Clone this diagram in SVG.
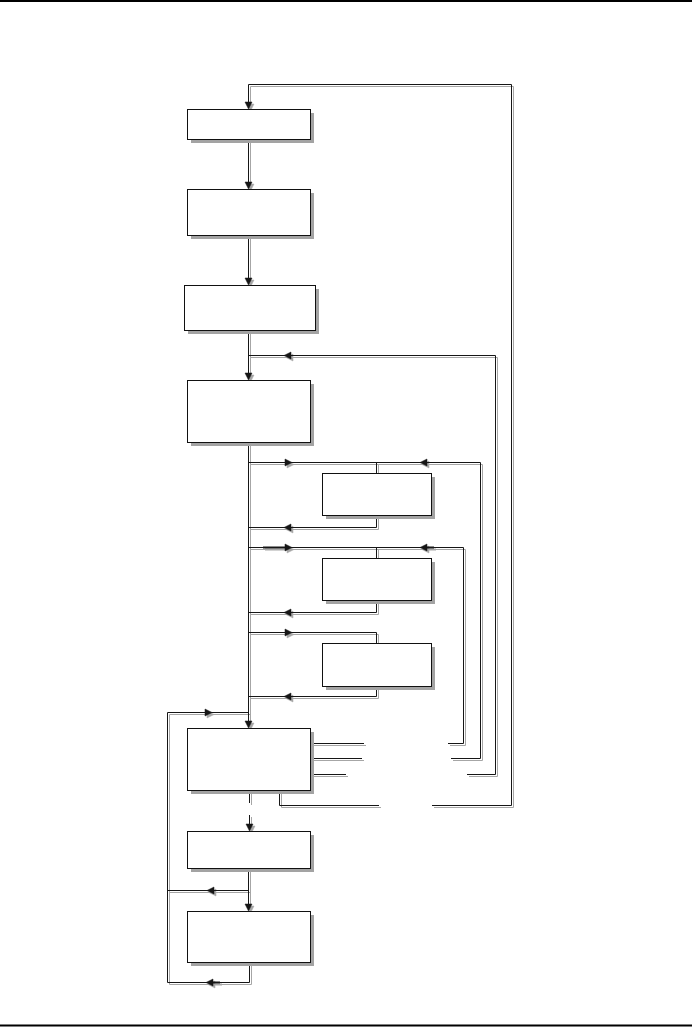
<svg xmlns="http://www.w3.org/2000/svg" xmlns:xlink="http://www.w3.org/1999/xlink" width="692" height="1027" viewBox="0 0 692 1027">
<style>
.bg{fill:#ffffff}
.rule{fill:#000000}
.box{fill:#ffffff;stroke:#111111;stroke-width:1}
.bshadow{fill:#a3a3a3}
.ln{fill:none}
.thick{fill:none;stroke-width:2}
.ah{stroke-width:0.5}
.shadow{stroke:#a6a6a6;fill:#a6a6a6}
.ink{stroke:#161616;fill:#161616}
</style>
<defs>
<g id="connPaths" stroke-width="1">
  <!-- top loop from box 8 -->
  <path class="ln" d="M279.5 790 V805.5 H379"/>
  <path class="ln" d="M432 805.5 H511.5 V84.5 H248.5 V103"/>
  <polygon class="ah" points="245,102 252,102 248.5,109"/>
  <!-- main chain -->
  <path class="ln" d="M248.5 139 V183"/>
  <polygon class="ah" points="245,182 252,182 248.5,189"/>
  <path class="ln" d="M248.5 236 V279"/>
  <polygon class="ah" points="245,278 252,278 248.5,285"/>
  <path class="ln" d="M248.5 331 V374"/>
  <polygon class="ah" points="245,373 252,373 248.5,380"/>
  <!-- feedback to box 4 -->
  <path class="ln" d="M310 774.5 H346"/>
  <path class="ln" d="M467 774.5 H495.5 V355.5 H248.5"/>
  <polygon class="ah" points="291,352 291,359 284,355.5"/>
  <!-- main vertical -->
  <path class="ln" d="M248.5 442 V722"/>
  <polygon class="ah" points="245,721 252,721 248.5,728"/>
  <!-- box 5 loop -->
  <path class="ln" d="M248.5 462.5 H480.5 V758.5 H451"/>
  <path class="ln" d="M310 758.5 H362"/>
  <path class="ln" d="M376.5 462.5 V473"/>
  <path class="ln" d="M376.5 515 V527.5 H248.5"/>
  <polygon class="ah" points="285,459 285,466 292,462.5"/>
  <polygon class="ah" points="427,459 427,466 420,462.5"/>
  <polygon class="ah" points="291,524 291,531 284,527.5"/>
  <!-- box 6 loop -->
  <path class="ln" d="M248.5 547.5 H463.5 V743.5 H448"/>
  <path class="ln" d="M310 743.5 H364"/>
  <path class="ln" d="M376.5 547.5 V558"/>
  <path class="ln" d="M376.5 601 V612.5 H248.5"/>
  <path class="thick" d="M263 547.5 H286"/>
  <path class="thick" d="M425 547.5 H434"/>
  <polygon class="ah" points="285,544 285,551 292,547.5"/>
  <polygon class="ah" points="427,544 427,551 420,547.5"/>
  <polygon class="ah" points="291,609 291,616 284,612.5"/>
  <!-- box 7 loop -->
  <path class="ln" d="M248.5 632.5 H376.5 V643"/>
  <path class="ln" d="M376.5 686 V696.5 H248.5"/>
  <polygon class="ah" points="285,629 285,636 292,632.5"/>
  <polygon class="ah" points="291,693 291,700 284,696.5"/>
  <!-- left loop -->
  <path class="ln" d="M249.5 962 V982.5 H167.5 V712.5 H248.5"/>
  <path class="thick" d="M210 982.5 H220"/>
  <polygon class="ah" points="213,979 213,986 206,982.5"/>
  <polygon class="ah" points="205,709 205,716 212,712.5"/>
  <path class="ln" d="M248.5 890.5 H167.5"/>
  <polygon class="ah" points="214,887 214,894 207,890.5"/>
  <!-- box 8 to box 9 -->
  <path class="ln" d="M249.5 790 V803"/>
  <path class="ln" d="M249.5 815 V825"/>
  <polygon class="ah" points="246,824 253,824 249.5,831"/>
  <!-- box 9 to box 10 -->
  <path class="ln" d="M248.5 869 V905"/>
  <polygon class="ah" points="245,904 252,904 248.5,911"/>
</g>
</defs>
<rect class="bg" x="0" y="0" width="692" height="1027"/>
<rect class="rule" x="0" y="0" width="692" height="2"/>
<rect class="rule" x="0" y="1024.5" width="692" height="2"/>
<g id="connectors">
  <use xlink:href="#connPaths" href="#connPaths" class="shadow" transform="translate(2,2)"/>
  <use xlink:href="#connPaths" href="#connPaths" class="ink"/>
</g>
<g id="node1"><rect class="bshadow" x="191" y="113" width="123" height="30"/><rect class="box" x="187.5" y="109.5" width="123" height="30"/></g>
<g id="node2"><rect class="bshadow" x="191" y="193" width="123" height="46"/><rect class="box" x="187.5" y="189.5" width="123" height="46"/></g>
<g id="node3"><rect class="bshadow" x="188" y="289" width="131" height="45"/><rect class="box" x="184.5" y="285.5" width="131" height="45"/></g>
<g id="node4"><rect class="bshadow" x="191" y="384" width="123" height="62"/><rect class="box" x="187.5" y="380.5" width="123" height="62"/></g>
<g id="node5"><rect class="bshadow" x="326" y="477" width="109" height="42"/><rect class="box" x="322.5" y="473.5" width="109" height="42"/></g>
<g id="node6"><rect class="bshadow" x="326" y="562" width="109" height="42"/><rect class="box" x="322.5" y="558.5" width="109" height="42"/></g>
<g id="node7"><rect class="bshadow" x="326" y="647" width="109" height="43"/><rect class="box" x="322.5" y="643.5" width="109" height="43"/></g>
<g id="node8"><rect class="bshadow" x="191" y="732" width="123" height="62"/><rect class="box" x="187.5" y="728.5" width="123" height="62"/></g>
<g id="node9"><rect class="bshadow" x="191" y="835" width="123" height="37"/><rect class="box" x="187.5" y="831.5" width="123" height="37"/></g>
<g id="node10"><rect class="bshadow" x="191" y="915" width="123" height="51"/><rect class="box" x="187.5" y="911.5" width="123" height="51"/></g>
</svg>
